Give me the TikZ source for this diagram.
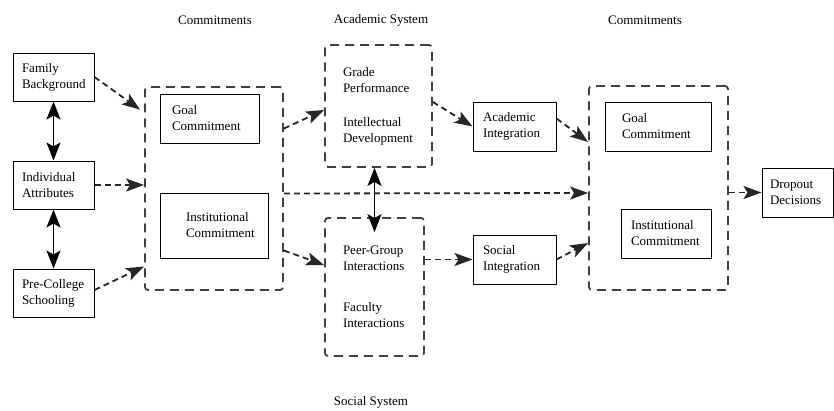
\documentclass[tikz,border=0pt]{standalone}
\usepackage{fontspec}
\setmainfont{Liberation Serif}
\usetikzlibrary{positioning, calc, arrows.meta}

\begin{document}
\begin{tikzpicture}[x=1pt, y=-1pt,
	every node/.style={font=\fontsize{13pt}{16pt}\selectfont},
	box/.style={draw, line width=1pt, minimum height=49pt, align=left, inner ysep=0pt},
	grp/.style={draw=black!75, line width=1.8pt, dash pattern=on 9pt off 6pt, rounded corners=3pt},
	flow/.style={draw=black!85, line width=1.8pt, dash pattern=on 6pt off 4pt, -{Stealth[length=18pt, width=13pt, inset=4pt]}},
	both/.style={line width=1.3pt, {Stealth[length=18pt, width=14pt, inset=4pt]}-{Stealth[length=18pt, width=14pt, inset=4pt]}}]
	\useasboundingbox (0,0) rectangle (834,410);
	% headings
	\node (hcomm1) at (215,20) {Commitments};
	\node (hacad) at (381,20) {Academic System};
	\node (hcomm2) at (645,20) {Commitments};
	\node (hsoc) at (371,402) {Social System};
	% background of the student
	\node[box, text width=63pt, inner xsep=9pt, minimum height=48pt] (fam) at (53.5,77) {Family\\Background};
	\node[box, text width=63pt, inner xsep=9pt, minimum height=48pt, below=59pt of fam] (ind) {Individual\\Attributes};
	\node[box, text width=63pt, inner xsep=9pt, minimum height=48pt, below=59pt of ind] (pre) {Pre-College\\Schooling};
	\draw[both] (fam) -- (ind);
	\draw[both] (ind) -- (pre);
	% first commitments
	\node[grp, minimum width=138pt, minimum height=203pt] (comm1) at (214,188.5) {};
	\node[box, text width=75pt, inner xsep=12pt] (goal1) at (209.5,118.5) {Goal\\Commitment};
	\node[box, text width=56pt, inner xsep=26pt, minimum height=65pt] (inst1) at (214,225.5) {Institutional\\Commitment};
	\draw[flow, shorten >=5pt] (fam.east) -- ($(comm1.west)+(0,-76)$);
	\draw[flow] (ind.east) -- (ind.east -| comm1.west);
	\draw[flow] ($(pre.east)+(0,-3)$) -- ($(comm1.west)+(0,78)$);
	% academic and social systems
	\node[grp, text width=71pt, inner xsep=18pt, minimum height=122pt, align=left] (acad) at (378.5,106) {Grade\\Performance\\[18pt]Intellectual\\Development};
	\node[grp, text width=63pt, inner xsep=18pt, minimum height=138pt, align=left] (social) at (374.5,287) {Peer-Group\\Interactions\\[25pt]Faculty\\Interactions};
	\draw[both] (social.north |- acad.south) -- ($(social.north)+(0,15)$);
	\draw[flow] ($(comm1.east)+(0,-60)$) -- ($(acad.west)+(0,4)$);
	\draw[flow] ($(comm1.east)+(0,62)$) -- ($(social.west)+(0,-22)$);
	\node[box, text width=63pt, inner xsep=10pt] (acadint) at (514.5,126.5) {Academic\\Integration};
	\node[box, text width=63pt, inner xsep=10pt, below=83pt of acadint] (socint) {Social\\Integration};
	\draw[flow] ($(acad.east)+(0,-4)$) -- (acadint.west);
	\draw[flow] (socint.west -| social.east) -- (socint.west);
	% later commitments and outcome
	\node[grp, minimum width=139pt, minimum height=204pt] (comm2) at (658.5,188) {};
	\node[box, text width=72pt, inner xsep=17pt] (goal2) at (658,126.5) {Goal\\Commitment};
	\node[box, text width=70pt, inner xsep=10pt] (inst2) at (666,233.5) {Institutional\\Commitment};
	\node[box, text width=55pt, inner xsep=8pt] (drop) at (797.5,192.5) {Dropout\\Decisions};
	\draw[flow] ($(comm1.east)+(0,5)$) -- ($(comm2.west)+(0,5)$);
	\draw[flow] ($(acadint.east)+(0,-8)$) -- ($(comm2.west)+(0,-46)$);
	\draw[flow] (socint.east) -- ($(comm2.west)+(0,55)$);
	\draw[flow] (drop.west -| comm2.east) -- (drop.west);
\end{tikzpicture}
\end{document}
